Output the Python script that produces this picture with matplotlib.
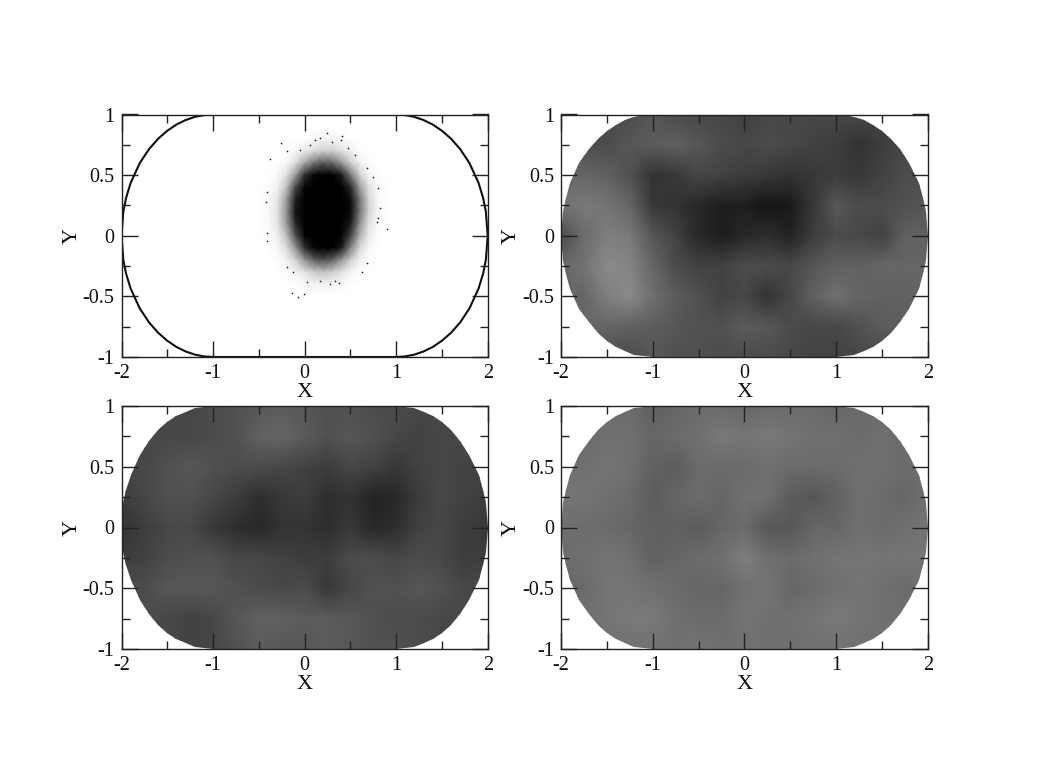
import numpy as np
import matplotlib
matplotlib.use("Agg")
import matplotlib.pyplot as plt
from matplotlib.patches import Polygon

plt.rcParams['font.family'] = ['Liberation Serif', 'DejaVu Serif']

wall_x = [0.0, 1.0, 1.1, 1.2, 1.3, 1.4, 1.5, 1.6, 1.7, 1.8, 1.9, 1.95, 1.98, 2.0]
wall_y = [1.0, 1.0, 0.995, 0.98, 0.954, 0.917, 0.866, 0.8, 0.714, 0.6, 0.436, 0.312, 0.199, 0.0]

x_ticks = [-2, -1, 0, 1, 2]
x_labels = ['-2', '-1', '0', '1', '2']
x_minor = [-1.5, -0.5, 0.5, 1.5]
y_ticks = [-1, -0.5, 0, 0.5, 1]
y_labels = ['-1', '-0.5', '0', '0.5', '1']
y_minor = [-0.75, -0.25, 0.25, 0.75]

# panel 1: ink density of the blob (estimated), top row first
blob_x = [-0.5, -0.4, -0.3, -0.2, -0.1, 0.0, 0.1, 0.2, 0.3, 0.4, 0.5, 0.6, 0.7, 0.8, 0.9]
blob_y = [0.9, 0.8, 0.7, 0.6, 0.5, 0.4, 0.3, 0.2, 0.1, 0.0, -0.1, -0.2, -0.3, -0.4, -0.5]
blob_ink = [
    [0, 0, 0, 0, 0, 0, 0, 0, 0, 0, 0, 0, 0, 0, 0],
    [0, 0, 0, 0, 0, 0, .02, .04, .04, .03, 0, 0, 0, 0, 0],
    [0, 0, 0, 0, .03, .08, .14, .18, .18, .12, .06, .01, 0, 0, 0],
    [0, 0, 0, .03, .14, .35, .55, .65, .6, .42, .2, .06, .01, 0, 0],
    [0, 0, .02, .12, .4, .82, .97, 1, 1, .9, .55, .2, .05, .01, 0],
    [0, .01, .05, .25, .72, .98, 1, 1, 1, 1, .85, .4, .12, .02, 0],
    [0, .02, .1, .38, .88, 1, 1, 1, 1, 1, .95, .55, .17, .03, 0],
    [0, .02, .12, .42, .92, 1, 1, 1, 1, 1, .97, .55, .18, .03, 0],
    [0, .02, .1, .38, .85, 1, 1, 1, 1, 1, .9, .45, .12, .02, 0],
    [0, .01, .06, .25, .68, .98, 1, 1, 1, 1, .75, .32, .08, .01, 0],
    [0, 0, .03, .14, .42, .82, .98, 1, 1, .9, .5, .16, .03, 0, 0],
    [0, 0, .01, .05, .18, .42, .62, .7, .62, .42, .2, .06, .01, 0, 0],
    [0, 0, 0, .01, .05, .12, .2, .24, .2, .12, .05, .01, 0, 0, 0],
    [0, 0, 0, 0, .005, .02, .04, .05, .04, .02, .005, 0, 0, 0, 0],
    [0, 0, 0, 0, 0, 0, 0, 0, 0, 0, 0, 0, 0, 0, 0],
]
# stray points around the blob, read one by one
stray_x = [0.24, 0.405, 0.397, -0.26, -0.378, 0.168, 0.113, 0.296, 0.478, 0.059, -0.05, -0.196,
           0.55, 0.678, 0.75, 0.824, 0.806, -0.414, -0.421, 0.897, -0.141, -0.076, -0.006, 0.278,
           0.379, 0.023, 0.168, 0.332, 0.806, 0.787, -0.407, -0.407, -0.196, -0.123, 0.623, 0.678]
stray_y = [0.845, 0.825, 0.79, 0.767, 0.633, 0.804, 0.79, 0.776, 0.727, 0.748, 0.707, 0.699,
           0.666, 0.556, 0.487, 0.226, 0.39, 0.364, 0.281, 0.053, -0.475, -0.502, -0.478, -0.4,
           -0.392, -0.379, -0.37, -0.373, 0.144, 0.11, 0.02, -0.043, -0.255, -0.296, -0.296, -0.227]

# panels 2-4: ink density of the point clouds (estimated), top row first
grid_x = [-2, -1.75, -1.5, -1.25, -1, -0.75, -0.5, -0.25, 0, 0.25, 0.5, 0.75, 1, 1.25, 1.5, 1.75, 2]
grid_y = [1, 0.75, 0.5, 0.25, 0, -0.25, -0.5, -0.75, -1]
ink_2 = [
    [.7, .7, .7, .7, .66, .70, .72, .72, .74, .72, .72, .72, .72, .72, .75, .7, .7],
    [.7, .7, .7, .66, .64, .62, .66, .70, .72, .70, .72, .74, .76, .80, .76, .72, .7],
    [.6, .6, .62, .68, .80, .78, .72, .74, .76, .78, .80, .78, .76, .78, .74, .7, .7],
    [.55, .52, .54, .60, .78, .80, .84, .88, .88, .92, .90, .78, .66, .70, .70, .68, .66],
    [.70, .58, .50, .52, .66, .74, .84, .88, .84, .82, .86, .76, .70, .72, .74, .62, .62],
    [.6, .55, .46, .48, .60, .70, .74, .74, .70, .70, .72, .66, .62, .62, .60, .60, .6],
    [.6, .6, .50, .46, .56, .64, .68, .74, .72, .80, .72, .62, .56, .60, .62, .62, .6],
    [.6, .6, .6, .62, .64, .66, .68, .68, .64, .66, .70, .72, .72, .68, .64, .64, .6],
    [.7, .7, .7, .7, .66, .68, .68, .70, .70, .70, .72, .74, .74, .72, .7, .7, .7],
]
ink_3 = [
    [.72, .72, .72, .72, .70, .68, .66, .64, .66, .68, .68, .70, .70, .72, .72, .72, .72],
    [.72, .72, .72, .72, .70, .68, .62, .60, .64, .68, .66, .68, .72, .74, .72, .72, .72],
    [.72, .72, .68, .66, .68, .70, .70, .72, .74, .76, .72, .74, .78, .74, .72, .74, .72],
    [.76, .72, .68, .68, .72, .76, .82, .78, .76, .82, .80, .86, .84, .76, .72, .74, .76],
    [.80, .76, .72, .72, .78, .82, .84, .80, .80, .82, .78, .84, .82, .74, .72, .76, .78],
    [.76, .74, .70, .68, .68, .72, .72, .74, .76, .76, .70, .70, .72, .70, .72, .76, .76],
    [.70, .70, .66, .66, .66, .68, .70, .72, .70, .78, .72, .68, .68, .66, .68, .72, .70],
    [.70, .70, .72, .74, .72, .66, .62, .62, .64, .64, .66, .68, .70, .70, .72, .72, .70],
    [.72, .72, .72, .74, .72, .68, .64, .66, .66, .64, .66, .68, .68, .70, .72, .72, .72],
]
ink_4 = [
    [.58, .58, .58, .58, .62, .60, .58, .58, .60, .58, .58, .58, .60, .58, .58, .58, .58],
    [.58, .58, .56, .56, .60, .58, .56, .52, .54, .52, .54, .56, .56, .58, .56, .58, .58],
    [.56, .56, .54, .56, .62, .64, .58, .58, .58, .56, .58, .58, .58, .56, .56, .58, .56],
    [.54, .54, .56, .58, .64, .60, .58, .60, .56, .56, .64, .66, .62, .56, .58, .60, .56],
    [.56, .58, .58, .60, .62, .62, .64, .60, .58, .66, .66, .60, .60, .56, .58, .56, .54],
    [.58, .56, .54, .56, .62, .60, .58, .56, .50, .56, .58, .56, .54, .54, .54, .54, .54],
    [.60, .58, .54, .54, .56, .58, .60, .60, .56, .54, .60, .58, .56, .54, .56, .58, .58],
    [.56, .56, .54, .52, .52, .56, .58, .58, .54, .56, .56, .54, .52, .54, .56, .56, .56],
    [.56, .56, .56, .56, .56, .56, .54, .56, .56, .56, .56, .56, .56, .56, .56, .56, .56],
]

# axes boxes in pixels of the reference: left, top, right, bottom
W, H = 1050, 763
boxes = [(121.5, 114.5, 487.7, 357), (561, 114.5, 927.7, 357),
         (121.5, 406, 487.7, 649), (561, 406, 927.7, 649)]

wx = np.array(wall_x)
wy = np.array(wall_y)
outline_x = np.concatenate([wx, wx[::-1], -wx, -wx[::-1]])
outline_y = np.concatenate([wy, -wy[::-1], -wy, wy[::-1]])

fig = plt.figure(figsize=(W / 100, H / 100), dpi=100)
axes = []
for l, t, r, b in boxes:
    ax = fig.add_axes([l / W, 1 - b / H, (r - l) / W, (b - t) / H])
    axes.append(ax)

axes[0].pcolormesh(blob_x, blob_y, blob_ink, cmap='gray_r', vmin=0, vmax=1, shading='gouraud')
axes[0].scatter(stray_x, stray_y, s=1.5, c='#222222', linewidths=0)
axes[0].plot(outline_x, outline_y, color='#111111', lw=1.5)

for ax, ink in zip(axes[1:], [ink_2, ink_3, ink_4]):
    mesh = ax.pcolormesh(grid_x, grid_y, ink, cmap='gray_r', vmin=0, vmax=1, shading='gouraud')
    wall = Polygon(np.column_stack([outline_x, outline_y]), closed=True, transform=ax.transData)
    mesh.set_clip_path(wall)

for ax in axes:
    ax.set_xlim(-2, 2)
    ax.set_ylim(-1, 1)
    ax.set_xticks(x_ticks)
    ax.set_xticklabels(x_labels)
    ax.set_xticks(x_minor, minor=True)
    ax.set_yticks(y_ticks)
    ax.set_yticklabels(y_labels)
    ax.set_yticks(y_minor, minor=True)
    ax.tick_params(which='major', direction='in', length=11.5, width=1.0, top=True, right=True,
                   labelsize=14.5, pad=5, color='#222222', labelcolor='#111111')
    ax.tick_params(which='minor', direction='in', length=5.5, width=1.0, top=True, right=True,
                   color='#222222')
    for s in ax.spines.values():
        s.set_linewidth(1.0)
        s.set_color('#222222')
    ax.set_xlabel('X', fontsize=16, labelpad=0, color='#111111')
    ax.set_ylabel('Y', fontsize=16, labelpad=1, color='#111111')

fig.savefig('out.png', dpi=100)
